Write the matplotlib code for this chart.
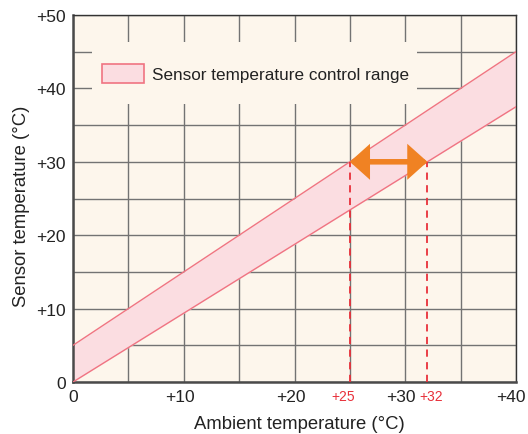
import numpy as np
import matplotlib
matplotlib.use('Agg')
from matplotlib import pyplot as plt
from matplotlib.patches import Patch, Rectangle
from matplotlib.transforms import ScaledTranslation

# data
ambient = [0, 40]
upper_edge = [5, 45]
lower_edge = [0, 37.5]
marks = [25, 32]
mark_level = 30
xticks = [0, 10, 20, 30, 40]
xticklabels = ['0', '+10', '+20', '+30', '+40']
yticks = [0, 10, 20, 30, 40, 50]
yticklabels = ['0', '+10', '+20', '+30', '+40', '+50']

bg = '#fdf6ec'
band_fill = '#fbdde1'
band_line = '#f07482'
red = '#e8303a'
orange = '#f08223'
txt = '#222222'

plt.rcParams['font.family'] = 'Liberation Sans'
fig = plt.figure(figsize=(5.28, 4.35), dpi=100)
ax = fig.add_axes([73/528, 1 - 383/435, 443/528, 367/435])
ax.set_facecolor(bg)

ax.set_xlim(0, 40)
ax.set_ylim(0, 50)
ax.set_xticks(np.arange(0, 41, 5), minor=True)
ax.set_yticks(np.arange(0, 51, 5), minor=True)
ax.grid(True, which='both', color='#737373', linewidth=1.0, zorder=0)
ax.set_axisbelow(True)

# plain box behind the legend hides the grid there
ax.add_patch(Rectangle((0.043, 0.757), 0.733, 0.169, transform=ax.transAxes,
                       facecolor=bg, edgecolor='none', zorder=1))

ax.fill_between(ambient, lower_edge, upper_edge, color=band_fill, zorder=2, linewidth=0)
ax.plot(ambient, upper_edge, color=band_line, lw=1.0, zorder=3)
ax.plot(ambient, lower_edge, color=band_line, lw=1.0, zorder=3)

mark_shift = [-5, 3]   # points, label nudge
for m, dx in zip(marks, mark_shift):
    ax.plot([m, m], [0, mark_level], color=red, lw=1.3, ls=(0, (4, 3)), zorder=4)
    ax.annotate('+%d' % m, xy=(m, 0), xytext=(dx, -5), textcoords='offset points',
                color=red, fontsize=10, ha='center', va='top')

ax.annotate('', xy=(marks[0], mark_level), xytext=(marks[1], mark_level),
            arrowprops=dict(arrowstyle='<|-|>,head_length=0.95,head_width=0.85',
                            color=orange, lw=4.0, shrinkA=0, shrinkB=0,
                            joinstyle='miter'), zorder=5)

ax.set_xticks(xticks)
ax.set_xticklabels(xticklabels)
ax.set_yticks(yticks)
ax.set_yticklabels(yticklabels)
ax.tick_params(which='both', length=0, labelsize=12.5, colors=txt, pad=5)

# the "+" labels sit a little left of their grid line
for lab in ax.get_xticklabels():
    if lab.get_text().startswith('+'):
        shift = -4 if lab.get_text() != '+40' else -5
        lab.set_transform(lab.get_transform() + ScaledTranslation(shift/100, 0, fig.dpi_scale_trans))

for s in ['left', 'bottom']:
    ax.spines[s].set_color('#4a4a4a')
    ax.spines[s].set_linewidth(1.8)
for s in ['top', 'right']:
    ax.spines[s].set_color('#333333')
    ax.spines[s].set_linewidth(1.0)

ax.set_xlabel('Ambient temperature (°C)', fontsize=13.3, color=txt)
ax.set_ylabel('Sensor temperature (°C)', fontsize=13.3, color=txt)
ax.xaxis.set_label_coords(0.511, -0.09)
ax.yaxis.set_label_coords(-0.097, 0.482)

leg = ax.legend(handles=[Patch(facecolor=band_fill, edgecolor=band_line, lw=1.2,
                               label='Sensor temperature control range')],
                loc='center left', bbox_to_anchor=(0.0655, 0.8406), fontsize=12.3,
                frameon=False, handlelength=2.45, handleheight=1.3,
                borderpad=0, borderaxespad=0, handletextpad=0.45)
leg.set_zorder(6)
for t in leg.get_texts():
    t.set_color(txt)

fig.savefig('out.png', dpi=100, facecolor='white')
